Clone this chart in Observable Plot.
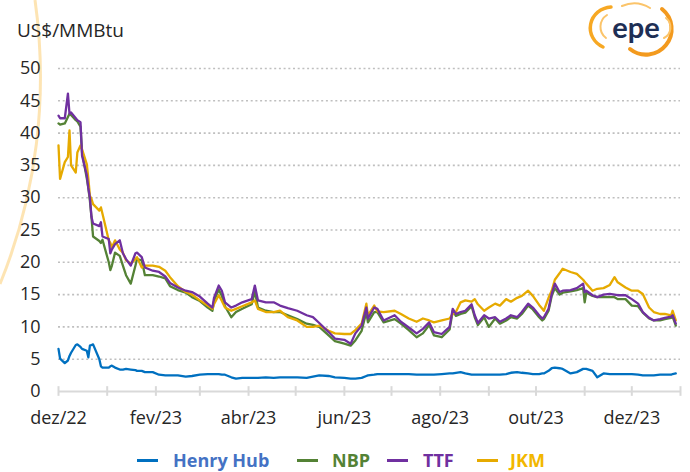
<!DOCTYPE html>
<html><head><meta charset="utf-8">
<script src="https://cdn.jsdelivr.net/npm/d3@7"></script>
<script src="https://cdn.jsdelivr.net/npm/@observablehq/plot@0.6"></script>
<style>
body{margin:0;background:#fff;font-family:"Open Sans",sans-serif;}
#wrap{position:relative;width:690px;height:472px;overflow:hidden;background:#fff;}
#deco{position:absolute;left:0;top:0;}
#chart{position:absolute;left:0;top:0;}
#ylabel{position:absolute;left:17px;top:18px;font-size:19px;color:#262626;line-height:24px;}
#legend{position:absolute;left:0;top:448px;width:690px;height:24px;}
.li{position:absolute;top:0;display:flex;align-items:center;height:24px;font-weight:700;font-size:18px;}
.sw{display:inline-block;width:21px;height:3px;}
</style></head><body>
<div id="wrap">
<svg id="deco" width="690" height="472">
  <path d="M 35 0 A 549 549 0 0 1 0 284" fill="none" stroke="#FDDFA6" stroke-width="3" opacity="0.85"/>
  <path d="M 611 7 A 22 21 0 0 0 603 47" fill="none" stroke="#F7A823" stroke-width="3.5" stroke-linecap="round"/>
  <path d="M 607 15 A 14 14 0 0 0 606 38" fill="none" stroke="#FBC46A" stroke-width="2" stroke-linecap="round"/>
  <path d="M 622 6 A 30 30 0 0 1 650 8" fill="none" stroke="#FBC46A" stroke-width="2" stroke-linecap="round"/>
  <path d="M 662 9 A 21 21 0 0 1 630 49" fill="none" stroke="#F39A1E" stroke-width="4" stroke-linecap="round"/>
  <path d="M 666 18 A 12 12 0 0 1 664 38" fill="none" stroke="#FBC46A" stroke-width="2" stroke-linecap="round"/>
  <text x="636" y="38" text-anchor="middle" font-family="Lato" font-weight="700" font-size="29" fill="#1E2F55">epe</text>
</svg>
<div id="ylabel">US$/MMBtu</div>
<div id="chart"></div>
<div id="legend"></div>
</div>
<script>
const dates = ["2022-12-01","2022-12-02","2022-12-05","2022-12-07","2022-12-08","2022-12-09","2022-12-12","2022-12-13","2022-12-15","2022-12-16","2022-12-19","2022-12-20","2022-12-21","2022-12-22","2022-12-23","2022-12-27","2022-12-28","2022-12-29",
"2023-01-02","2023-01-03","2023-01-04","2023-01-06","2023-01-09","2023-01-11","2023-01-13","2023-01-16","2023-01-19","2023-01-20","2023-01-23","2023-01-25","2023-01-30",
"2023-02-03","2023-02-07","2023-02-10","2023-02-15","2023-02-20","2023-02-24",
"2023-03-01","2023-03-06","2023-03-09","2023-03-10","2023-03-13","2023-03-15","2023-03-17","2023-03-21","2023-03-24","2023-03-28",
"2023-04-03","2023-04-05","2023-04-07","2023-04-12","2023-04-17","2023-04-21","2023-04-26",
"2023-05-02","2023-05-08","2023-05-12","2023-05-16","2023-05-22","2023-05-26",
"2023-06-01","2023-06-05","2023-06-08","2023-06-12","2023-06-15","2023-06-16","2023-06-20","2023-06-22","2023-06-26",
"2023-07-03","2023-07-07","2023-07-12","2023-07-17","2023-07-21","2023-07-25","2023-07-28",
"2023-08-02","2023-08-07","2023-08-09","2023-08-11","2023-08-14","2023-08-17","2023-08-21","2023-08-23","2023-08-25","2023-08-29",
"2023-09-01","2023-09-05","2023-09-08","2023-09-12","2023-09-15","2023-09-19","2023-09-22","2023-09-26","2023-09-29",
"2023-10-03","2023-10-05","2023-10-06","2023-10-09","2023-10-11","2023-10-13","2023-10-16","2023-10-18","2023-10-23","2023-10-27","2023-10-31",
"2023-11-01","2023-11-02","2023-11-06","2023-11-09","2023-11-13","2023-11-17","2023-11-20","2023-11-22","2023-11-27",
"2023-12-01","2023-12-05","2023-12-08","2023-12-12","2023-12-15","2023-12-19","2023-12-22","2023-12-26","2023-12-27","2023-12-29"];

const henryHub = [6.6,5.1,4.4,4.8,5.5,6.0,7.2,7.3,6.9,6.6,6.3,5.3,7.1,7.2,7.3,5.0,3.9,3.7,
3.7,3.9,4.0,3.7,3.4,3.4,3.5,3.4,3.3,3.2,3.2,3.0,3.0,
2.6,2.5,2.5,2.5,2.3,2.4,
2.6,2.7,2.7,2.7,2.7,2.6,2.6,2.2,2.0,2.1,
2.1,2.1,2.1,2.2,2.1,2.2,2.2,
2.2,2.1,2.3,2.5,2.4,2.2,
2.1,2.0,2.0,2.1,2.4,2.5,2.6,2.7,2.7,
2.7,2.7,2.7,2.6,2.6,2.6,2.6,
2.7,2.8,2.8,2.9,3.0,2.8,2.6,2.6,2.6,2.6,
2.6,2.6,2.6,2.7,2.9,3.0,2.9,2.8,2.7,
2.7,2.8,2.8,3.2,3.6,3.7,3.6,3.5,2.8,3.0,3.5,
3.5,3.5,3.2,2.2,2.8,2.7,2.7,2.7,2.7,
2.7,2.6,2.5,2.5,2.5,2.6,2.6,2.6,2.7,2.8];

const nbp = [41.5,41.3,41.5,42.5,43.0,42.8,42.0,41.8,41.0,37.0,33.0,31.5,29.5,27.0,24.0,23.3,23.0,23.5,
20.0,18.8,19.5,21.5,21.0,19.5,18.0,16.7,19.5,20.5,20.3,18.0,18.0,
17.8,17.5,16.3,15.7,15.3,14.6,
14.0,13.0,12.5,14.0,15.8,14.8,13.2,11.5,12.3,12.8,
13.5,15.5,13.0,12.5,12.3,12.3,11.8,
11.2,10.5,10.3,10.0,8.7,7.8,
7.4,7.1,7.9,9.4,12.3,10.7,12.3,12.3,10.7,
11.2,10.5,9.5,8.4,9.0,10.3,8.7,
8.4,9.6,12.5,11.7,12.0,12.2,13.2,11.5,10.3,11.5,
10.0,11.3,10.5,11.0,11.5,11.3,12.0,13.3,12.7,
11.5,11.0,11.2,12.5,14.8,16.0,15.0,15.3,15.5,15.7,16.0,
13.8,15.3,14.8,14.6,14.6,14.6,14.6,14.3,14.3,
13.3,13.2,12.2,11.3,11.0,11.0,11.2,11.4,11.6,10.2];

const ttf = [42.7,42.3,42.3,46.1,43.0,43.2,42.3,42.0,41.7,36.5,33.5,31.5,30.0,27.0,26.0,25.6,26.2,24.0,
23.6,21.4,22.0,22.8,23.4,21.4,20.5,19.5,21.4,21.5,20.8,19.2,18.7,
18.5,17.8,16.8,16.1,15.6,15.4,
14.7,13.6,13.0,14.5,16.4,15.6,13.8,13.0,13.3,13.8,
14.3,16.4,14.1,13.8,13.8,13.3,12.9,
12.5,11.8,11.5,10.6,9.2,8.2,
8.0,7.4,9.0,10.2,13.0,11.3,13.0,12.8,11.0,
11.8,10.8,9.9,9.0,9.7,10.7,9.2,
8.9,10.0,12.8,12.0,12.3,12.5,13.5,11.8,10.6,11.8,
11.3,11.5,10.8,11.3,11.8,11.5,12.3,13.6,13.0,
11.8,11.3,11.5,12.8,15.1,16.7,15.4,15.6,15.7,16.0,16.7,
15.4,15.6,14.9,14.6,15.0,15.1,15.0,14.9,14.9,
14.3,13.6,12.3,11.4,11.0,11.2,11.4,11.6,11.8,10.5];

const jkm = [38.1,32.9,35.5,36.3,40.4,35.0,33.9,37.0,38.1,37.5,35.2,33.0,30.3,29.8,29.0,28.0,28.5,27.5,
23.4,23.0,22.3,23.4,22.0,21.5,20.3,19.8,20.5,20.8,19.2,19.5,19.5,
19.3,18.7,17.7,16.3,15.4,15.0,
14.1,13.3,12.8,13.5,14.9,14.0,13.0,12.5,12.8,13.2,
13.8,14.1,12.8,12.3,12.3,12.5,11.5,
11.0,10.0,10.0,10.2,9.4,9.0,
8.9,8.9,9.5,10.5,13.6,11.8,13.3,12.4,12.3,
12.5,12.0,11.3,10.8,11.3,11.0,10.7,
11.0,11.3,12.0,12.3,13.8,14.1,13.9,14.3,13.5,12.5,
13.0,13.6,13.3,14.3,13.9,14.5,14.8,15.6,14.8,
13.4,12.8,12.5,14.5,15.6,17.3,18.3,19.0,18.5,18.2,17.3,
17.0,16.7,15.6,15.9,16.0,16.5,17.7,16.9,16.1,
15.6,15.6,15.1,13.0,12.3,12.0,12.0,11.8,12.5,11.0];

const seriesNames = ["Henry Hub","NBP","TTF","JKM"];
const seriesValues = [henryHub, nbp, ttf, jkm];
const lineColors = ["#0070C0","#548235","#7030A0","#E6AA00"];
const legendTextColors = ["#4472C4","#548235","#7030A0","#F2B700"];
const drawOrder = ["Henry Hub","NBP","JKM","TTF"];

const yTicks = [0,5,10,15,20,25,30,35,40,45,50];
const monthTicks = ["2022-12-01","2023-01-01","2023-02-01","2023-03-01","2023-04-01","2023-05-01","2023-06-01","2023-07-01","2023-08-01","2023-09-01","2023-10-01","2023-11-01","2023-12-01","2024-01-01"];
const xLabelDates = ["2022-12-01","2023-02-01","2023-04-01","2023-06-01","2023-08-01","2023-10-01","2023-12-01"];
const xLabels = ["dez/22","fev/23","abr/23","jun/23","ago/23","out/23","dez/23"];

const parse = s => new Date(s + "T00:00:00Z");
const rows = seriesNames.flatMap((name, i) =>
  dates.map((d, j) => ({date: parse(d), value: seriesValues[i][j], series: name})));
const labelMap = new Map(xLabelDates.map((d, i) => [+parse(d), xLabels[i]]));

const plot = Plot.plot({
  width: 690,
  height: 432,
  marginTop: 68,
  marginBottom: 41,
  marginLeft: 58,
  marginRight: 10,
  style: {fontFamily: "'Open Sans', sans-serif", fontSize: "18px", color: "#262626", background: "transparent", overflow: "visible"},
  x: {type: "utc", domain: [parse(monthTicks[0]), parse(monthTicks[monthTicks.length - 1])]},
  y: {domain: [0, 50]},
  color: {domain: seriesNames, range: lineColors},
  marks: [
    Plot.gridY(yTicks.filter(d => d > 0), {stroke: "#BFBFBF", strokeOpacity: 1, strokeWidth: 1.6, strokeDasharray: "2,2.7"}),
    Plot.ruleY([0], {stroke: "#D9D9D9", strokeWidth: 2}),
    Plot.ruleX(monthTicks.map(parse), {y1: -0.75, y2: 0.75, stroke: "#D9D9D9", strokeWidth: 2}),
    Plot.axisY(yTicks, {tickSize: 0, tickPadding: 18, label: null, fill: "#262626", fontSize: 18}),
    Plot.axisX(xLabelDates.map(parse), {tickSize: 0, tickPadding: 20, label: null, tickFormat: d => labelMap.get(+d), fill: "#262626", fontSize: 18}),
    ...drawOrder.map(name => Plot.line(rows.filter(r => r.series === name), {
      x: "date", y: "value", stroke: "series", strokeWidth: 2.3, strokeLinejoin: "round", strokeLinecap: "round"
    }))
  ]
});
document.getElementById("chart").appendChild(plot);

const legendLefts = [137, 297, 387, 477];
const legendGaps = [15, 14, 15, 12];
const legend = document.getElementById("legend");
seriesNames.forEach((name, i) => {
  const item = document.createElement("div");
  item.className = "li";
  item.style.left = legendLefts[i] + "px";
  const sw = document.createElement("span");
  sw.className = "sw";
  sw.style.background = lineColors[i];
  sw.style.marginRight = legendGaps[i] + "px";
  const tx = document.createElement("span");
  tx.textContent = name;
  tx.style.color = legendTextColors[i];
  item.appendChild(sw);
  item.appendChild(tx);
  legend.appendChild(item);
});
</script>
</body></html>
